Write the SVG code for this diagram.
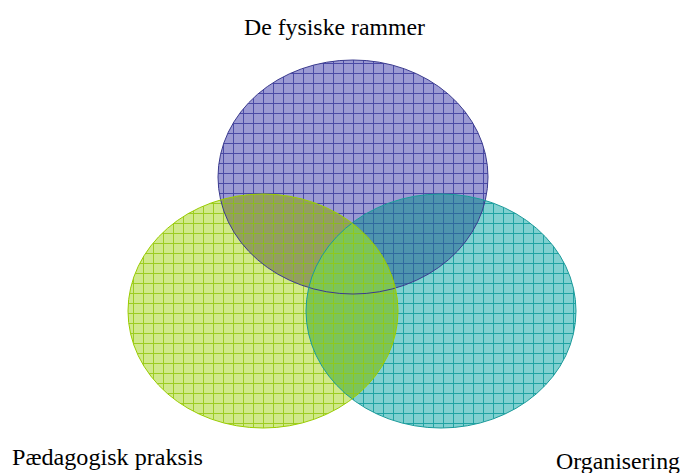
<svg xmlns="http://www.w3.org/2000/svg" width="683" height="473" viewBox="0 0 683 473">
<style>
.lbl{font-family:"Liberation Serif","Times New Roman",serif;font-size:23px;fill:#000}
</style>
<defs>
<pattern id="pb" patternUnits="userSpaceOnUse" x="3" y="3" width="10" height="10">
<rect width="10" height="10" fill="#9b9ad3"/>
<path d="M0 0.5H10M0.5 0V10" stroke="#4a4aa6" stroke-width="1"/>
</pattern>
<pattern id="pg" patternUnits="userSpaceOnUse" x="3" y="3" width="10" height="10">
<rect width="10" height="10" fill="#d0e98a"/>
<path d="M0 0.5H10M0.5 0V10" stroke="#9dcc22" stroke-width="1"/>
</pattern>
<pattern id="pt" patternUnits="userSpaceOnUse" x="3" y="3" width="10" height="10">
<rect width="10" height="10" fill="#80d0d0"/>
<path d="M0 0.5H10M0.5 0V10" stroke="#1fa3a3" stroke-width="1"/>
</pattern>
<pattern id="pgb" patternUnits="userSpaceOnUse" x="3" y="3" width="10" height="10">
<rect width="10" height="10" fill="#939e62"/>
<path d="M0 0.5H10M0.5 0V10" stroke="#8cb822" stroke-width="1"/>
</pattern>
<pattern id="ptb" patternUnits="userSpaceOnUse" x="3" y="3" width="10" height="10">
<rect width="10" height="10" fill="#4e94ae"/>
<path d="M0 0.5H10M0.5 0V10" stroke="#2f6a9e" stroke-width="1"/>
</pattern>
<pattern id="pgt" patternUnits="userSpaceOnUse" x="3" y="3" width="10" height="10">
<rect width="10" height="10" fill="#7cc459"/>
<path d="M0 0.5H10M0.5 0V10" stroke="#8ec81e" stroke-width="1"/>
</pattern>
<clipPath id="cb"><ellipse cx="353" cy="177" rx="135" ry="117"/></clipPath>
<clipPath id="ct"><ellipse cx="441" cy="311" rx="135" ry="117"/></clipPath>
</defs>
<g id="fysiske">
<ellipse cx="353" cy="177" rx="135" ry="117" fill="url(#pb)"/>
</g>
<g id="organisering">
<ellipse cx="441" cy="311" rx="135" ry="117" fill="url(#pt)"/>
</g>
<g id="praksis">
<ellipse cx="263" cy="311" rx="135" ry="117" fill="url(#pg)"/>
</g>
<g id="overlaps">
<ellipse cx="441" cy="311" rx="135" ry="117" fill="url(#ptb)" clip-path="url(#cb)"/>
<ellipse cx="263" cy="311" rx="135" ry="117" fill="url(#pgb)" clip-path="url(#cb)"/>
<ellipse cx="263" cy="311" rx="135" ry="117" fill="url(#pgt)" clip-path="url(#ct)"/>
</g>
<g id="outlines" fill="none" stroke-width="1">
<ellipse cx="353" cy="177" rx="135" ry="117" stroke="#3a3a8e"/>
<ellipse cx="441" cy="311" rx="135" ry="117" stroke="#1a9a9a"/>
<ellipse cx="263" cy="311" rx="135" ry="117" stroke="#99cc00"/>
</g>
<g id="labels">
<text class="lbl" x="244" y="35" textLength="181" lengthAdjust="spacingAndGlyphs">De fysiske rammer</text>
<text class="lbl" x="12" y="465" textLength="191" lengthAdjust="spacingAndGlyphs">Pædagogisk praksis</text>
<text class="lbl" x="556" y="469" textLength="124" lengthAdjust="spacingAndGlyphs">Organisering</text>
</g>
</svg>
